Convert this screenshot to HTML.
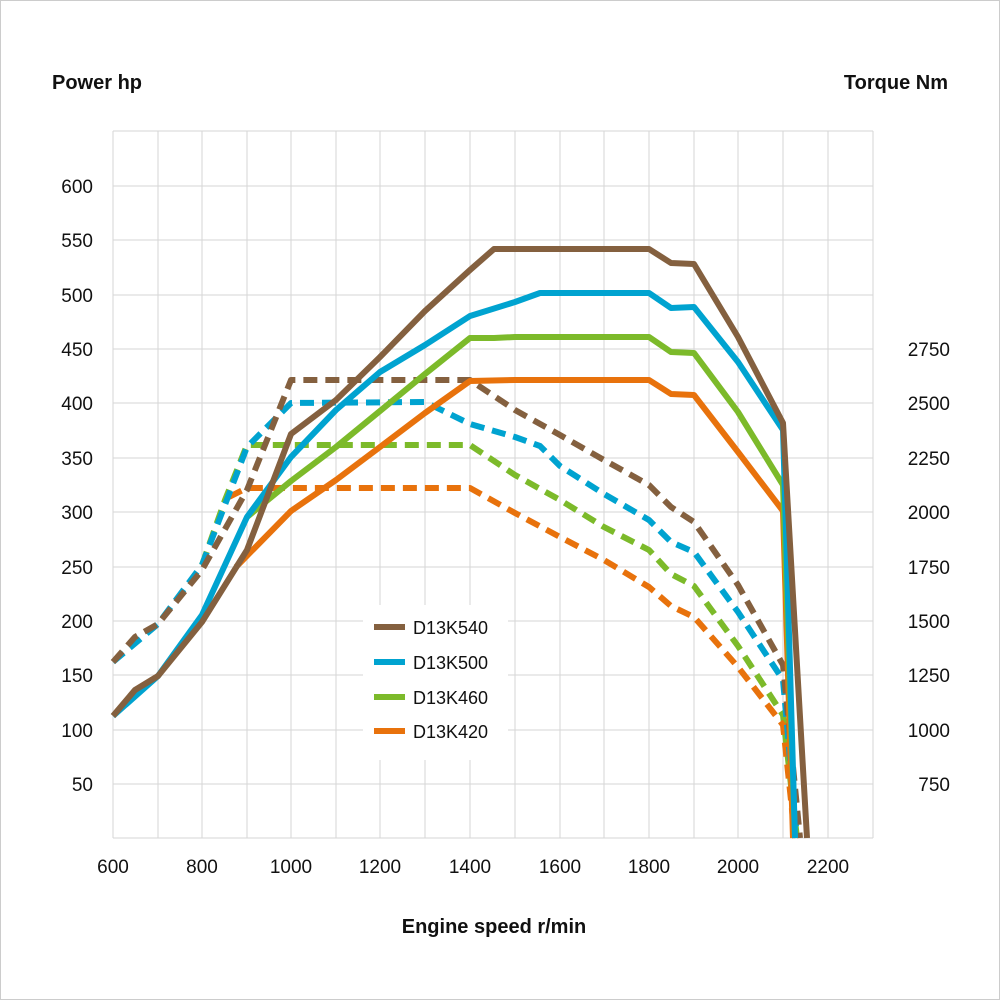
<!DOCTYPE html>
<html><head><meta charset="utf-8"><style>
body{margin:0;background:#fff}
svg{display:block}
text{font-family:"Liberation Sans",Arial,sans-serif;fill:#111}
</style></head><body>
<svg width="1000" height="1000" viewBox="0 0 1000 1000">
<rect x="0.5" y="0.5" width="999" height="999" fill="#fff" stroke="#ccc"/>
<g stroke="#d6d6d6" stroke-width="1">
<path d="M113 131V838M158 131V838M202 131V838M247 131V838M291 131V838M336 131V838M380 131V838M425 131V838M470 131V838M515 131V838M560 131V838M604 131V838M649 131V838M694 131V838M738 131V838M783 131V838M828 131V838M873 131V838"/>
<path d="M113 131H873M113 186H873M113 240H873M113 295H873M113 349H873M113 403H873M113 458H873M113 512H873M113 567H873M113 621H873M113 675H873M113 730H873M113 784H873M113 838H873"/>
</g>
<g font-size="19" text-anchor="end">
<text x="93" y="193">600</text><text x="93" y="247">550</text><text x="93" y="302">500</text><text x="93" y="356">450</text><text x="93" y="410">400</text><text x="93" y="465">350</text><text x="93" y="519">300</text><text x="93" y="574">250</text><text x="93" y="628">200</text><text x="93" y="682">150</text><text x="93" y="737">100</text><text x="93" y="791">50</text>
</g>
<g font-size="19" text-anchor="end">
<text x="950" y="356">2750</text><text x="950" y="410">2500</text><text x="950" y="465">2250</text><text x="950" y="519">2000</text><text x="950" y="574">1750</text><text x="950" y="628">1500</text><text x="950" y="682">1250</text><text x="950" y="737">1000</text><text x="950" y="791">750</text>
</g>
<g font-size="19" text-anchor="middle">
<text x="113" y="873">600</text><text x="202" y="873">800</text><text x="291" y="873">1000</text><text x="380" y="873">1200</text><text x="470" y="873">1400</text><text x="560" y="873">1600</text><text x="649" y="873">1800</text><text x="738" y="873">2000</text><text x="828" y="873">2200</text>
</g>
<text x="52" y="89" font-size="20" font-weight="bold">Power hp</text>
<text x="948" y="89" font-size="20" font-weight="bold" text-anchor="end">Torque Nm</text>
<text x="494" y="933" font-size="20" font-weight="bold" text-anchor="middle">Engine speed r/min</text>
<g fill="none" stroke-width="6" stroke-linejoin="round">
<!-- dashed torque -->
<polyline stroke="#7cba2a" stroke-dasharray="14 8" points="202,565 225,500 247,445 470,445 515,475 560,500 604,527 649,550 671,574 694,586 738,646 783,715 797,838"/>
<polyline stroke="#e8720c" stroke-dasharray="14 8" points="229,497 247,488 470,488 515,513 560,537 604,560 649,587 671,606 694,617 738,667 783,725 795,838"/>
<polyline stroke="#00a3d0" stroke-dasharray="14 8" points="113,662 158,624 202,565 247,447 291,403 425,402 470,424 515,437 540,446 560,466 604,494 649,520 671,542 694,552 738,612 783,680 797,838"/>
<polyline stroke="#84603f" stroke-dasharray="14 8" points="113,662 135,637 158,624 202,570 247,490 291,380 470,380 515,410 560,435 604,460 649,485 671,507 694,522 738,585 783,665 800,838"/>
<!-- solid power -->
<polyline stroke="#e8720c" points="236,567 291,511 336,480 380,447 425,413 470,381 515,380 649,380 671,394 694,395 738,452 783,511 793,838"/>
<polyline stroke="#7cba2a" points="247,517 291,481 336,447 380,411 425,374 470,338 494,338 515,337 649,337 671,352 694,353 738,412 783,485 795,838"/>
<polyline stroke="#00a3d0" points="113,716 158,676 202,615 247,517 291,457 336,410 380,372 425,345 470,316 515,302 540,293 649,293 671,308 694,307 738,362 783,430 795,838"/>
<polyline stroke="#84603f" points="113,716 135,690 158,676 202,622 247,550 291,434 336,400 380,357 425,311 470,270 494,249 649,249 671,263 694,264 738,337 783,423 807,838"/>
</g>
<rect x="363" y="605" width="145" height="155" fill="#fff"/>
<g stroke-width="6">
<line x1="374" y1="627" x2="405" y2="627" stroke="#84603f"/>
<line x1="374" y1="662" x2="405" y2="662" stroke="#00a3d0"/>
<line x1="374" y1="697" x2="405" y2="697" stroke="#7cba2a"/>
<line x1="374" y1="731" x2="405" y2="731" stroke="#e8720c"/>
</g>
<g font-size="18">
<text x="413" y="634">D13K540</text><text x="413" y="669">D13K500</text><text x="413" y="704">D13K460</text><text x="413" y="738">D13K420</text>
</g>
</svg>
</body></html>
